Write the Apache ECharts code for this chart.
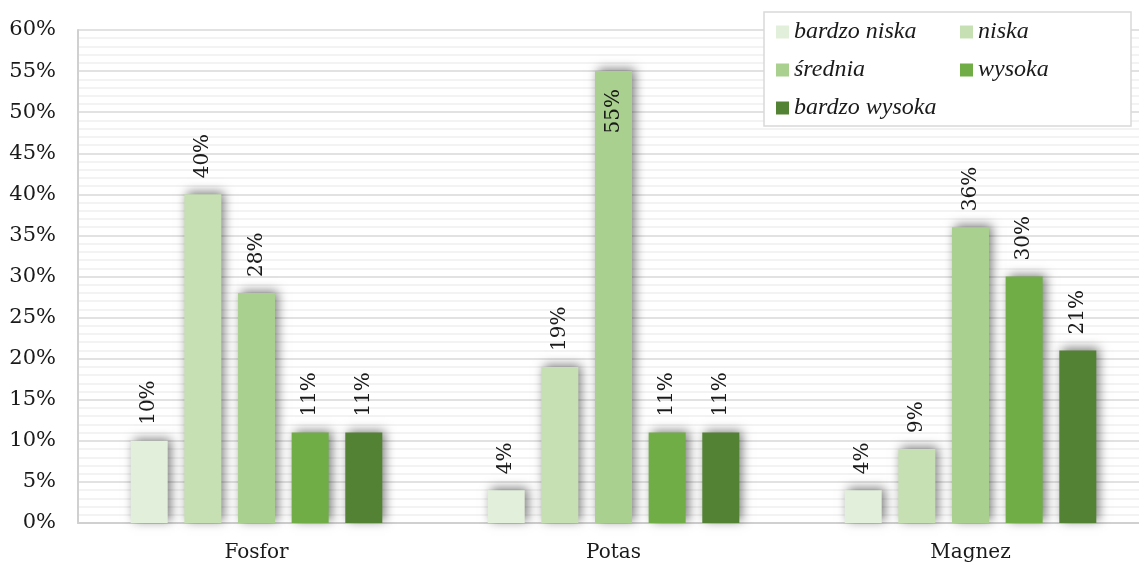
<!DOCTYPE html>
<html>
<head>
<meta charset="utf-8">
<script src="https://cdn.jsdelivr.net/npm/echarts@6/dist/echarts.min.js"></script>
<style>
  html, body { margin: 0; padding: 0; background: #fff; }
  #chart { width: 1139px; height: 562px; }
</style>
</head>
<body>
<div id="chart"></div>
<script>
// Nutrient groups on the x axis
const categories = ['Fosfor', 'Potas', 'Magnez'];

// Share of soils per abundance class (percent)
const levelNames = ['bardzo niska', 'niska', 'średnia', 'wysoka', 'bardzo wysoka'];
const bardzoNiska = [10, 4, 4];
const niska = [40, 19, 9];
const srednia = [28, 55, 36];
const wysoka = [11, 11, 30];
const bardzoWysoka = [11, 11, 21];

const levelColors = ['#e2efda', '#c6e0b4', '#a9d08e', '#70ad47', '#548235'];
const levelValues = [bardzoNiska, niska, srednia, wysoka, bardzoWysoka];

const FONT = 'DejaVu Serif';
const LEGEND_FONT = 'Liberation Serif';
const Y_MAX = 60;

const labelBase = {
  show: true,
  position: 'top',
  rotate: 90,
  align: 'left',
  verticalAlign: 'middle',
  distance: 16,
  formatter: '{c}%',
  fontFamily: FONT,
  fontSize: 20,
  color: '#1a1a1a'
};

// Values too close to the top of the axis get their label inside the bar
function pointData(values) {
  return values.map(v => v > Y_MAX - 8
    ? { value: v, label: { position: 'insideTop', align: 'right', distance: 18 } }
    : v);
}

const series = levelNames.map((name, i) => ({
  name: name,
  type: 'bar',
  data: pointData(levelValues[i]),
  barWidth: 37,
  barGap: '45%',
  itemStyle: {
    color: levelColors[i],
    shadowColor: 'rgba(0,0,0,0.5)',
    shadowBlur: 10,
    shadowOffsetX: 3,
    shadowOffsetY: -2
  },
  label: labelBase
}));

const chart = echarts.init(document.getElementById('chart'), null, { renderer: 'canvas' });
chart.setOption({
  animation: false,
  backgroundColor: '#ffffff',
  // plot area runs a little past the right edge of the canvas
  grid: {
    left: 78, width: 1071, top: 30, bottom: 39,
    containLabel: false, outerBoundsMode: 'none'
  },
  legend: {
    data: levelNames,
    left: 764,
    top: 12,
    width: 360,
    orient: 'horizontal',
    padding: [8, 1, 6, 12],
    itemGap: 14,
    itemWidth: 13,
    itemHeight: 13,
    icon: 'rect',
    backgroundColor: '#ffffff',
    borderColor: '#d9d9d9',
    borderWidth: 1.5,
    textStyle: {
      fontFamily: LEGEND_FONT,
      fontStyle: 'italic',
      fontSize: 24,
      color: '#1a1a1a',
      width: 152,
      lineHeight: 24
    }
  },
  xAxis: {
    type: 'category',
    data: categories,
    axisLine: { lineStyle: { color: '#d0d0d0', width: 2 } },
    axisTick: { show: false },
    axisLabel: { fontFamily: FONT, fontSize: 20, color: '#1a1a1a', margin: 20 }
  },
  yAxis: {
    type: 'value',
    min: 0,
    max: Y_MAX,
    interval: 5,
    axisLine: { show: true, lineStyle: { color: '#d0d0d0', width: 2 } },
    axisTick: { show: false },
    axisLabel: {
      fontFamily: FONT, fontSize: 21, color: '#1a1a1a', margin: 22,
      formatter: '{value}%'
    },
    splitLine: { lineStyle: { color: '#d9d9d9', width: 1.5 } },
    minorTick: { show: false, splitNumber: 5 },
    minorSplitLine: { show: true, lineStyle: { color: '#efefef', width: 1.5 } }
  },
  series: series
});
</script>
</body>
</html>
